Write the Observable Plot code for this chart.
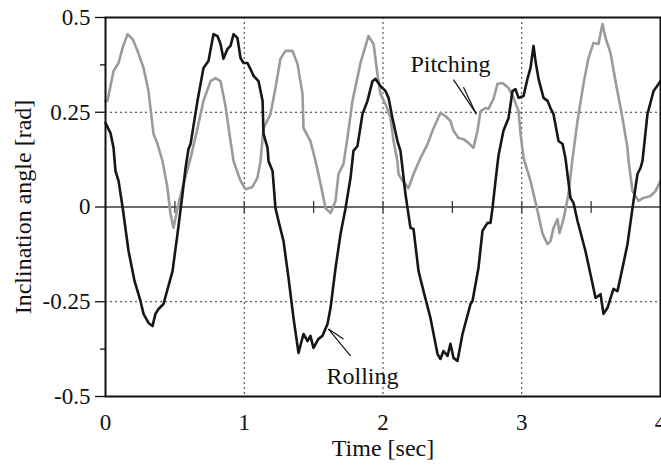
<!DOCTYPE html>
<html>
<head>
<meta charset="utf-8">
<script src="https://cdn.jsdelivr.net/npm/d3@7"></script>
<script src="https://cdn.jsdelivr.net/npm/@observablehq/plot@0.6"></script>
<style>
  html, body { margin: 0; padding: 0; background: #fff; }
  svg { display: block; }
</style>
</head>
<body>
<div id="chart"></div>
<script>
// ---- data ----
const rollingT = [0,0.036,0.058,0.072,0.094,0.123,0.166,0.209,0.252,0.274,0.310,0.339,0.360,0.382,0.418,0.483,0.519,0.555,0.577,0.598,0.613,0.663,0.706,0.742,0.778,0.807,0.829,0.850,0.879,0.901,0.923,0.951,0.973,0.995,1.023,1.045,1.067,1.103,1.132,1.139,1.168,1.175,1.204,1.225,1.247,1.283,1.319,1.355,1.391,1.427,1.456,1.477,1.499,1.535,1.564,1.600,1.622,1.658,1.694,1.730,1.766,1.787,1.816,1.852,1.888,1.924,1.946,1.982,2.018,2.040,2.068,2.104,2.126,2.162,2.198,2.220,2.256,2.292,2.342,2.393,2.414,2.436,2.465,2.486,2.508,2.537,2.573,2.631,2.645,2.688,2.717,2.753,2.775,2.789,2.811,2.832,2.868,2.905,2.933,2.955,2.977,3.013,3.041,3.063,3.085,3.099,3.121,3.157,3.186,3.207,3.229,3.265,3.294,3.315,3.351,3.373,3.402,3.459,3.495,3.532,3.568,3.589,3.618,3.661,3.690,3.726,3.762,3.798,3.834,3.856,3.870,3.906,3.950,4.0];
const rollingV = [0.222,0.195,0.156,0.095,0.069,0,-0.116,-0.195,-0.248,-0.282,-0.306,-0.314,-0.282,-0.269,-0.256,-0.169,-0.071,0.034,0.103,0.153,0.166,0.280,0.367,0.385,0.456,0.451,0.430,0.391,0.417,0.425,0.456,0.446,0.393,0.380,0.380,0.364,0.346,0.332,0.280,0.193,0.156,0.121,0.095,-0.003,-0.037,-0.090,-0.187,-0.293,-0.385,-0.335,-0.354,-0.340,-0.372,-0.348,-0.340,-0.309,-0.266,-0.161,-0.071,-0.003,0.077,0.148,0.161,0.245,0.280,0.332,0.338,0.319,0.306,0.288,0.235,0.174,0.148,0.034,-0.055,-0.058,-0.169,-0.222,-0.293,-0.388,-0.401,-0.380,-0.393,-0.361,-0.398,-0.406,-0.335,-0.256,-0.248,-0.161,-0.063,-0.042,-0.042,-0.003,0.069,0.135,0.201,0.235,0.306,0.311,0.288,0.293,0.338,0.367,0.425,0.385,0.338,0.288,0.280,0.261,0.245,0.174,0.166,0.129,0.024,0.011,-0.037,-0.116,-0.177,-0.240,-0.230,-0.282,-0.266,-0.216,-0.222,-0.161,-0.098,-0.003,0.087,0.103,0.121,0.245,0.306,0.332];

const pitchingT = [0,0.014,0.058,0.094,0.123,0.159,0.195,0.231,0.274,0.310,0.346,0.375,0.411,0.447,0.468,0.490,0.526,0.562,0.613,0.663,0.706,0.757,0.793,0.829,0.865,0.901,0.923,0.973,1.009,1.059,1.095,1.117,1.139,1.189,1.225,1.261,1.297,1.348,1.384,1.420,1.427,1.477,1.514,1.550,1.586,1.622,1.658,1.679,1.715,1.751,1.780,1.838,1.895,1.932,1.960,1.982,2.018,2.054,2.076,2.104,2.112,2.141,2.184,2.220,2.270,2.321,2.364,2.414,2.450,2.486,2.508,2.544,2.580,2.616,2.652,2.681,2.703,2.739,2.760,2.796,2.825,2.861,2.905,2.941,2.977,2.991,3.013,3.063,3.114,3.150,3.186,3.207,3.229,3.258,3.272,3.301,3.337,3.366,3.402,3.445,3.481,3.517,3.553,3.582,3.604,3.640,3.676,3.726,3.762,3.770,3.798,3.841,3.877,3.928,3.964,4.0];
const pitchingV = [0.280,0.280,0.359,0.380,0.420,0.456,0.443,0.412,0.367,0.306,0.193,0.166,0.121,0.050,-0.018,-0.055,0.008,0.061,0.129,0.208,0.280,0.332,0.340,0.332,0.266,0.174,0.121,0.069,0.047,0.053,0.077,0.121,0.208,0.245,0.314,0.391,0.412,0.412,0.377,0.298,0.208,0.174,0.121,0.061,-0.003,-0.016,0.016,0.087,0.113,0.201,0.280,0.380,0.451,0.430,0.351,0.298,0.272,0.235,0.174,0.121,0.087,0.069,0.050,0.087,0.129,0.166,0.208,0.248,0.240,0.227,0.201,0.182,0.179,0.169,0.156,0.201,0.253,0.261,0.259,0.285,0.325,0.327,0.314,0.288,0.253,0.193,0.129,0.069,-0.011,-0.071,-0.098,-0.090,-0.055,-0.032,-0.069,-0.032,0.034,0.129,0.227,0.325,0.393,0.433,0.430,0.483,0.446,0.406,0.332,0.235,0.156,0.121,0.042,0.016,0.024,0.029,0.042,0.069];

const xTicks = [0, 1, 2, 3, 4];
const xTickLabels = ["0", "1", "2", "3", "4"];
const yTicks = [0.5, 0.25, 0, -0.25, -0.5];
const yTickLabels = ["0.5", "0.25", "0", "-0.25", "-0.5"];
const yMinorTicks = [0.375, -0.375];
const zeroLineTicks = [0.5, 1, 1.5, 2, 2.5, 3, 3.5];
const xGrid = [1, 2, 3];
const yGrid = [0.25, -0.25];

const xLabel = "Time [sec]";
const yLabel = "Inclination angle [rad]";

const annoLabels = ["Pitching", "Rolling"];
const annoT = [2.486, 1.852];
const annoV = [0.376, -0.447];
// leader lines: [t1, v1, t2, v2]
const leaderT1 = [2.508, 2.580, 1.607, 1.607];
const leaderV1 = [0.336, 0.316, -0.322, -0.322];
const leaderT2 = [2.674, 2.670, 1.766, 1.715];
const leaderV2 = [0.245, 0.247, -0.393, -0.348];

// ---- build tables ----
const rolling = rollingT.map((t, i) => ({t, v: rollingV[i]}));
const pitching = pitchingT.map((t, i) => ({t, v: pitchingV[i]}));
const annos = annoLabels.map((label, i) => ({label, t: annoT[i], v: annoV[i]}));
const leaders = leaderT1.map((t1, i) => ({t1, v1: leaderV1[i], t2: leaderT2[i], v2: leaderV2[i]}));
const yFmt = new Map(yTicks.map((d, i) => [d, yTickLabels[i]]));
const xFmt = new Map(xTicks.map((d, i) => [d, xTickLabels[i]]));

const FONT = "'Liberation Serif', 'Times New Roman', serif";
const INK = "#111";

const chart = Plot.plot({
  width: 661,
  height: 468,
  marginLeft: 105,
  marginRight: 1,
  marginTop: 17,
  marginBottom: 72,
  style: {fontFamily: FONT, background: "#fff", color: INK},
  x: {domain: [0, 4]},
  y: {domain: [-0.5, 0.5]},
  marks: [
    Plot.ruleX(xGrid, {stroke: "#333", strokeWidth: 1, strokeDasharray: "2,3"}),
    Plot.ruleY(yGrid, {stroke: "#333", strokeWidth: 1, strokeDasharray: "2,3"}),
    Plot.ruleY([0], {stroke: "#3a3a3a", strokeWidth: 1.6}),
    Plot.link(zeroLineTicks, {x1: d => d, x2: d => d, y1: -0.016, y2: 0.016, stroke: "#3a3a3a", strokeWidth: 1.3}),
    Plot.line(pitching, {x: "t", y: "v", stroke: "#9b9b9b", strokeWidth: 2.6, strokeLinejoin: "round"}),
    Plot.line(rolling, {x: "t", y: "v", stroke: "#161616", strokeWidth: 2.6, strokeLinejoin: "round"}),
    Plot.link(leaders, {x1: "t1", y1: "v1", x2: "t2", y2: "v2", stroke: INK, strokeWidth: 1.2}),
    Plot.text(annos, {x: "t", y: "v", text: "label", fontSize: 24, fill: INK}),
    Plot.frame({stroke: INK, strokeWidth: 2}),
    Plot.axisY({ticks: yTicks, tickSize: 10, tickPadding: 5, tickFormat: d => yFmt.get(d), fontSize: 23, label: null, strokeWidth: 1.3}),
    Plot.axisY({ticks: yMinorTicks, tickSize: 5, tickFormat: () => "", label: null, strokeWidth: 1.3}),
    Plot.axisX({ticks: xTicks, tickSize: 0, tickPadding: 17, tickFormat: d => xFmt.get(d), fontSize: 23, label: null}),
    Plot.text([xLabel], {frameAnchor: "bottom", textAnchor: "middle", lineAnchor: "middle", dy: 52, fontSize: 24, fill: INK}),
    Plot.text([yLabel], {frameAnchor: "left", textAnchor: "middle", lineAnchor: "middle", dx: -82, rotate: -90, fontSize: 24, fill: INK})
  ]
});
document.getElementById("chart").appendChild(chart);
</script>
</body>
</html>
